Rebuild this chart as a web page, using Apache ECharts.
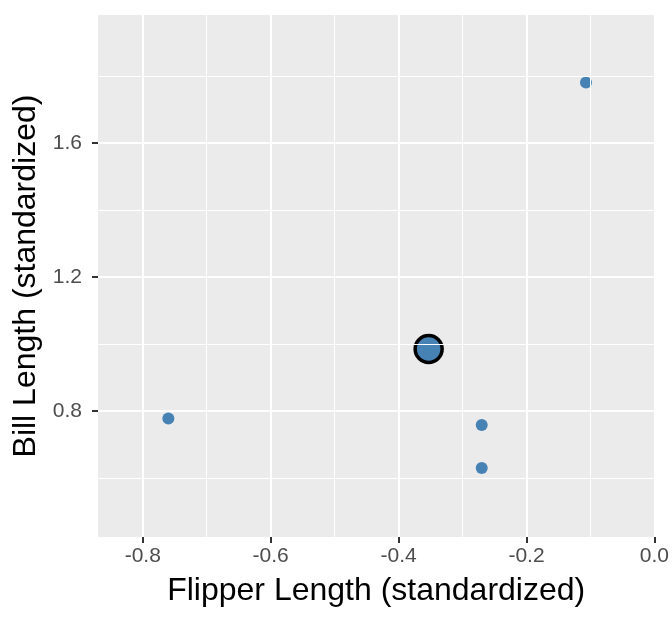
<!DOCTYPE html>
<html>
<head>
<meta charset="utf-8">
<script src="https://cdn.jsdelivr.net/npm/echarts@6/dist/echarts.min.js"></script>
<style>
html,body{margin:0;padding:0;background:#fff;}
#chart{width:672px;height:624px;}
</style>
</head>
<body>
<div id="chart"></div>
<script>
// Data
const flipperLength = [-0.107, -0.760, -0.270, -0.270];
const billLength    = [1.781, 0.777, 0.758, 0.629];
const centroidX = [-0.353];
const centroidY = [0.985];

// Tick labels and gridlines
const xTicks = [-0.8, -0.6, -0.4, -0.2, 0.0];
const xMinor = [-0.7, -0.5, -0.3, -0.1];
const yTicks = [0.8, 1.2, 1.6];
const yMinor = [0.6, 1.0, 1.4, 1.8];

const pts = flipperLength.map((x, i) => [x, billLength[i]]);
const cpts = centroidX.map((x, i) => [x, centroidY[i]]);

const gridLines = [].concat(
  xMinor.map(v => ({xAxis: v, lineStyle: {width: 1}})),
  yMinor.map(v => ({yAxis: v, lineStyle: {width: 1}})),
  xTicks.map(v => ({xAxis: v, lineStyle: {width: 2}})),
  yTicks.map(v => ({yAxis: v, lineStyle: {width: 2}}))
);

const chart = echarts.init(document.getElementById('chart'), null, {renderer: 'canvas'});
const font = '"Liberation Sans", Arial, Helvetica, sans-serif';
const tickStyle = {color: '#333333', width: 2};
chart.setOption({
  animation: false,
  backgroundColor: '#ffffff',
  textStyle: {fontFamily: font},
  grid: {left: 98, right: 17, top: 15, bottom: 87, show: true, backgroundColor: '#EBEBEB', borderWidth: 0},
  xAxis: {
    type: 'value', min: -0.87, max: 0.0,
    name: 'Flipper Length (standardized)', nameLocation: 'middle', nameGap: 38,
    nameTextStyle: {fontSize: 32, color: '#000000', fontFamily: font},
    axisLine: {show: true, onZero: false, lineStyle: {color: 'rgba(255,255,255,0)', width: 1}},
    splitLine: {show: false},
    axisTick: {show: true, inside: false, customValues: xTicks, length: 6, lineStyle: tickStyle},
    axisLabel: {customValues: xTicks, formatter: v => Number(v).toFixed(1), fontSize: 21, color: '#4D4D4D', margin: 9, fontFamily: font, showMinLabel: true, showMaxLabel: true}
  },
  yAxis: {
    type: 'value', min: 0.423, max: 1.983,
    name: 'Bill Length (standardized)', nameLocation: 'middle', nameGap: 53, nameRotate: 90,
    nameTextStyle: {fontSize: 32, color: '#000000', fontFamily: font},
    axisLine: {show: true, onZero: false, lineStyle: {color: 'rgba(255,255,255,0)', width: 1}},
    splitLine: {show: false},
    axisTick: {show: true, inside: false, customValues: yTicks, length: 6, lineStyle: tickStyle},
    axisLabel: {customValues: yTicks, formatter: v => Number(v).toFixed(1), fontSize: 21, color: '#4D4D4D', margin: 16, fontFamily: font}
  },
  series: [
    {
      type: 'scatter', data: [], z: 1, silent: true,
      markLine: {
        silent: true, symbol: ['none', 'none'], label: {show: false},
        lineStyle: {color: '#ffffff', type: 'solid'},
        emphasis: {disabled: true},
        data: gridLines
      }
    },
    {
      type: 'scatter', data: pts, z: 3, symbol: 'circle', symbolSize: 12,
      itemStyle: {color: '#4682B4', opacity: 1}
    },
    {
      type: 'scatter', data: cpts, z: 4, symbol: 'circle', symbolSize: 27,
      itemStyle: {color: '#4682B4', borderColor: '#000000', borderWidth: 3.5, opacity: 1}
    }
  ]
});
</script>
</body>
</html>
